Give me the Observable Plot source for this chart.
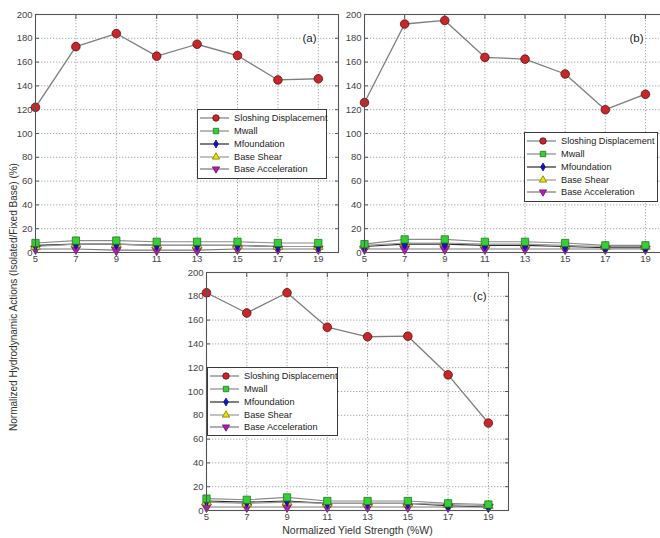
<!DOCTYPE html>
<html><head><meta charset="utf-8">
<script src="https://cdn.jsdelivr.net/npm/d3@7"></script>
<script src="https://cdn.jsdelivr.net/npm/@observablehq/plot@0.6"></script>
<style>
body{margin:0;background:#fff;}
#root{position:relative;width:660px;height:538px;overflow:hidden;background:#fff;font-family:"Liberation Sans",Arial,sans-serif;}
.panel{position:absolute;}
.legend{position:absolute;border:1px solid #3a3a3a;background:#fff;box-sizing:border-box;font-size:9.2px;color:#222;}
.legend .row{position:absolute;left:0;height:12px;display:flex;align-items:center;white-space:nowrap;}
.legend svg{display:block;margin-right:3px;}
#ylab{position:absolute;left:13px;top:297px;transform:translate(-50%,-50%) rotate(-90deg);white-space:nowrap;font-size:10px;color:#333;}
</style>
</head><body><div id="root"></div>
<script>
const xs = [5, 7, 9, 11, 13, 15, 17, 19];
const names = ["Sloshing Displacement", "Mwall", "Mfoundation", "Base Shear", "Base Acceleration"];
const xTicks = [5, 7, 9, 11, 13, 15, 17, 19];
const yTicks = [0, 20, 40, 60, 80, 100, 120, 140, 160, 180, 200];

// Panel (a)
const aSloshing = [122, 173, 184, 165, 175, 165.5, 145, 146];
const aMwall    = [8, 10, 10, 9, 9, 9, 8, 8];
const aMfound   = [6, 7, 7, 6, 6, 6, 5, 5];
const aShear    = [5, 7, 7, 6, 6, 6, 5, 5];
const aAccel    = [3, 3, 2, 2, 2, 3, 3, 3];
// Panel (b)
const bSloshing = [126, 192, 195, 164, 162.5, 150, 120, 133];
const bMwall    = [7, 11, 11, 9, 9, 8, 6, 6];
const bMfound   = [5, 7, 7, 6, 6, 5, 4, 4];
const bShear    = [6, 8, 8, 7, 7, 6, 5, 5];
const bAccel    = [3, 3, 3, 3, 3, 3, 3, 3];
// Panel (c)
const cSloshing = [183, 166, 183, 154, 146, 146.5, 114, 73.5];
const cMwall    = [10, 9, 11, 8, 8, 8, 6, 5];
const cMfound   = [8, 7, 8, 6, 6, 6, 4, 3];
const cShear    = [7, 6, 7, 6, 6, 6, 5, 4];
const cAccel    = [3, 3, 3, 3, 3, 3, 3, 3];

const styles = [
  {symbol: "circle",   r: 4.3, fill: "#c8262a", stroke: "#5a1010", line: "#7d7d7d", rotate: 0},
  {symbol: "square",   r: 4.1, fill: "#35d035", stroke: "#1d7a1d", line: "#8a8a8a", rotate: 0},
  {symbol: "diamond",  r: 3.2, fill: "#1414c0", stroke: "#0a0a80", line: "#2a2a2a", rotate: 0},
  {symbol: "triangle", r: 3.6, fill: "#e6e600", stroke: "#777700", line: "#9a9a9a", rotate: 0},
  {symbol: "triangle", r: 3.6, fill: "#b21cb2", stroke: "#701070", line: "#7a7a7a", rotate: 180}
];

const root = document.getElementById("root");

function makePanel(cfg) {
  const series = cfg.data.map((vals, i) => xs.map((x, j) => ({x, y: vals[j], s: names[i]})));
  const marks = [
    Plot.gridX(xTicks, {stroke: "#a8a8a8", strokeOpacity: 1, strokeDasharray: "1.3,1.7"}),
    Plot.gridY(yTicks, {stroke: "#a8a8a8", strokeOpacity: 1, strokeDasharray: "1.3,1.7"}),
    Plot.axisY(yTicks, {anchor: "left", tickSize: 0, tickPadding: 3, fontSize: 9.5, fill: "#444", label: null}),
    Plot.axisX(xTicks, {anchor: "bottom", tickSize: 0, tickPadding: 3, fontSize: 9.5, fill: "#444", label: null}),
    Plot.axisY(yTicks, {anchor: "left", tickSize: -4, fill: "none", stroke: "#555", label: null}),
    Plot.axisY(yTicks, {anchor: "right", tickSize: -4, fill: "none", stroke: "#555", label: null}),
    Plot.axisX(xTicks, {anchor: "bottom", tickSize: -4, fill: "none", stroke: "#555", label: null}),
    Plot.axisX(xTicks, {anchor: "top", tickSize: -4, fill: "none", stroke: "#555", label: null})
  ];
  series.forEach((d, i) => marks.push(Plot.line(d, {x: "x", y: "y", stroke: styles[i].line, strokeWidth: i === 0 ? 1.3 : 1.1})));
  series.slice().reverse().forEach((d, k) => {
    const i = series.length - 1 - k;
    const st = styles[i];
    marks.push(Plot.dot(d, {x: "x", y: "y", symbol: st.symbol, r: st.r, fill: st.fill, stroke: st.stroke, strokeWidth: 0.8, rotate: st.rotate}));
  });
  marks.push(Plot.frame({stroke: "#555", strokeWidth: 1.1}));
  marks.push(Plot.text([cfg.tag], {frameAnchor: "top-right", dx: -22, dy: 24, textAnchor: "end", lineAnchor: "middle", fontSize: 11.5, fill: "#222", stroke: "white", strokeWidth: 3}));
  if (cfg.xlabel) marks.push(Plot.text([cfg.xlabel], {frameAnchor: "bottom", dy: 20, lineAnchor: "middle", fontSize: 10.5, fill: "#333"}));
  const svg = Plot.plot({
    width: cfg.width, height: cfg.height,
    marginLeft: cfg.ml, marginRight: cfg.mr, marginTop: cfg.mt, marginBottom: cfg.mb,
    style: {background: "transparent", fontFamily: "Liberation Sans, Arial, sans-serif", overflow: "visible"},
    x: {domain: [5, 20]},
    y: {domain: [0, 200]},
    marks
  });
  svg.classList.add("panel");
  svg.style.left = cfg.left + "px";
  svg.style.top = cfg.top + "px";
  root.appendChild(svg);
}

function makeLegend(left, top, width, height) {
  const div = document.createElement("div");
  div.className = "legend";
  Object.assign(div.style, {left: left + "px", top: top + "px", width: width + "px", height: height + "px"});
  names.forEach((n, i) => {
    const st = styles[i];
    const row = document.createElement("div");
    row.className = "row";
    row.style.top = (9.3 + i * 12.75 - 6 - 1) + "px";
    const ns = "http://www.w3.org/2000/svg";
    const svg = document.createElementNS(ns, "svg");
    svg.setAttribute("width", 33); svg.setAttribute("height", 12);
    const ln = document.createElementNS(ns, "line");
    ln.setAttribute("x1", 2); ln.setAttribute("x2", 31); ln.setAttribute("y1", 6); ln.setAttribute("y2", 6);
    ln.setAttribute("stroke", styles[i].line); ln.setAttribute("stroke-width", 1.2);
    svg.appendChild(ln);
    const type = {circle: d3.symbolCircle, square: d3.symbolSquare, diamond: d3.symbolDiamond, triangle: d3.symbolTriangle}[st.symbol];
    const rr = st.r * 0.75;
    const p = document.createElementNS(ns, "path");
    p.setAttribute("d", d3.symbol(type, Math.PI * rr * rr)());
    p.setAttribute("transform", `translate(18,6) rotate(${st.rotate})`);
    p.setAttribute("fill", st.fill); p.setAttribute("stroke", st.stroke); p.setAttribute("stroke-width", 0.8);
    svg.appendChild(p);
    row.appendChild(svg);
    const t = document.createElement("span");
    t.textContent = n;
    row.appendChild(t);
    div.appendChild(row);
  });
  root.appendChild(div);
}

makePanel({left: 0, top: 0, width: 342, height: 270, ml: 35, mr: 4, mt: 14, mb: 18, tag: "(a)",
  data: [aSloshing, aMwall, aMfound, aShear, aAccel]});
makePanel({left: 330, top: 0, width: 340, height: 270, ml: 34, mr: 5, mt: 14, mb: 18, tag: "(b)",
  data: [bSloshing, bMwall, bMfound, bShear, bAccel]});
makePanel({left: 170, top: 258, width: 342, height: 280, ml: 36, mr: 4, mt: 14, mb: 28, tag: "(c)",
  xlabel: "Normalized Yield Strength (%W)",
  data: [cSloshing, cMwall, cMfound, cShear, cAccel]});

makeLegend(197, 109, 130, 70);
makeLegend(524, 132, 134, 70);
makeLegend(207, 367, 131, 69);

const yl = document.createElement("div");
yl.id = "ylab";
yl.textContent = "Normalized Hydrodynamic Actions (Isolated/Fixed Base) (%)";
root.appendChild(yl);
</script>
</body></html>
